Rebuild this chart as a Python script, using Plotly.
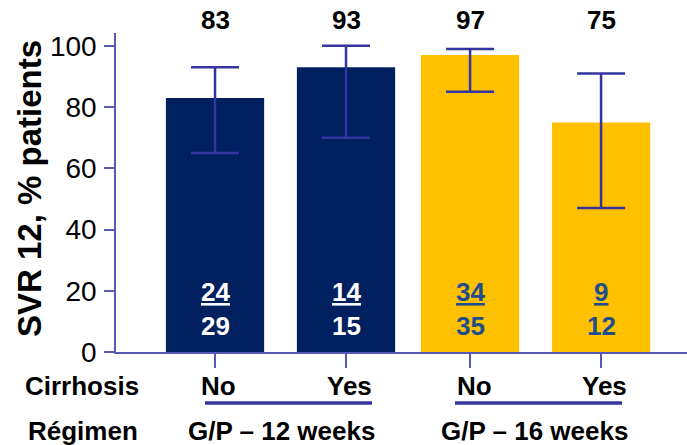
import plotly.graph_objects as go

# SVR12 by regimen and cirrhosis status
cirrhosis = ["No", "Yes", "No", "Yes"]
regimens = ["G/P – 12 weeks", "G/P – 16 weeks"]
svr_pct = [83, 93, 97, 75]
ci_low = [65, 70, 85, 47]
ci_high = [93, 100, 99, 91]
responders = [24, 14, 34, 9]
totals = [29, 15, 35, 12]

NAVY = "#002060"
GOLD = "#FFC000"
ERR = "#3535A0"
AXIS = "#5A5AB4"
FONT = "Liberation Sans, Arial, sans-serif"

W, H = 687, 445
ML, MR, MT, MB = 116, 0, 33, 93
PW, PH = W - ML - MR, H - MT - MB

XR = [-0.756, 3.603]


def px_x(px):
    """pixel column -> paper x"""
    return (px - ML) / PW


def px_y(py):
    """pixel row -> paper y"""
    return (H - MB - py) / PH


def data_x(x):
    """data x -> paper x"""
    return (x - XR[0]) / (XR[1] - XR[0])


# bar centres: two groups, slightly tighter gap between the groups
xpos = [0, 1, 1.947, 2.947]
bar_colors = [NAVY, NAVY, GOLD, GOLD]
inner_text_colors = ["white", "white", "#1F4E8C", "#1F4E8C"]

fig = go.Figure()
fig.add_trace(go.Bar(
    x=xpos,
    y=svr_pct,
    width=0.75,
    marker=dict(color=bar_colors, line=dict(width=0)),
    error_y=dict(
        type="data",
        symmetric=False,
        array=[h - v for h, v in zip(ci_high, svr_pct)],
        arrayminus=[v - l for v, l in zip(svr_pct, ci_low)],
        color=ERR,
        thickness=2.5,
        width=24,
    ),
    hoverinfo="skip",
))

big = dict(family=FONT, size=26, color="black")
centred = dict(xref="paper", yref="paper", showarrow=False,
               xanchor="center", yanchor="middle")

ann = []
for i, x in enumerate(xpos):
    # percentage above the plot
    ann.append(dict(x=data_x(x), y=px_y(20), text=f"<b>{svr_pct[i]}</b>",
                    font=big, **centred))
    # n / N inside bar
    ann.append(dict(x=x, y=19.6, xref="x", yref="y", text=f"<b><u>{responders[i]}</u></b>",
                    showarrow=False, xanchor="center", yanchor="middle",
                    font=dict(family=FONT, size=26, color=inner_text_colors[i])))
    ann.append(dict(x=x, y=8.5, xref="x", yref="y", text=f"<b>{totals[i]}</b>",
                    showarrow=False, xanchor="center", yanchor="middle",
                    font=dict(family=FONT, size=26, color=inner_text_colors[i])))
    # cirrhosis category label
    ann.append(dict(x=data_x(x + 0.03), y=px_y(386), text=f"<b>{cirrhosis[i]}</b>",
                    font=big, **centred))

# row headers
ann.append(dict(x=px_x(82), y=px_y(386), text="<b>Cirrhosis</b>", font=big, **centred))
ann.append(dict(x=px_x(83), y=px_y(431), text="<b>Régimen</b>", font=big, **centred))

# regimen labels under each group
for centre_px, name in zip([281, 534], regimens):
    ann.append(dict(x=px_x(centre_px), y=px_y(431), text=f"<b>{name}</b>",
                    font=big, **centred))

# y-axis title
ann.append(dict(x=px_x(29), y=px_y(189), text="<b>SVR 12, % patients</b>", textangle=-90,
                font=dict(family=FONT, size=33, color="black"), **centred))

# lines grouping the two bars of each regimen
shapes = []
for a, b in [(205, 372), (455, 622)]:
    shapes.append(dict(type="line", xref="paper", yref="paper",
                       x0=px_x(a), x1=px_x(b), y0=px_y(403), y1=px_y(403),
                       line=dict(color=ERR, width=3.5)))

fig.update_layout(
    width=W,
    height=H,
    margin=dict(l=ML, r=MR, t=MT, b=MB),
    paper_bgcolor="white",
    plot_bgcolor="white",
    showlegend=False,
    annotations=ann,
    shapes=shapes,
    font=dict(family=FONT, color="black"),
    xaxis=dict(
        range=XR,
        tickvals=xpos,
        showticklabels=False,
        ticks="outside",
        ticklen=14,
        tickwidth=1.5,
        tickcolor=AXIS,
        showline=True,
        linecolor=AXIS,
        linewidth=1.5,
        showgrid=False,
        zeroline=False,
    ),
    yaxis=dict(
        range=[0, 104.2],
        tickvals=[0, 20, 40, 60, 80, 100],
        ticks="outside",
        ticklen=10,
        tickwidth=1.5,
        tickcolor=AXIS,
        showline=True,
        linecolor=AXIS,
        linewidth=1.5,
        showgrid=False,
        zeroline=False,
        tickfont=dict(family=FONT, size=28, color="black"),
        ticklabelstandoff=2,
    ),
)

fig.write_html("out.html")
